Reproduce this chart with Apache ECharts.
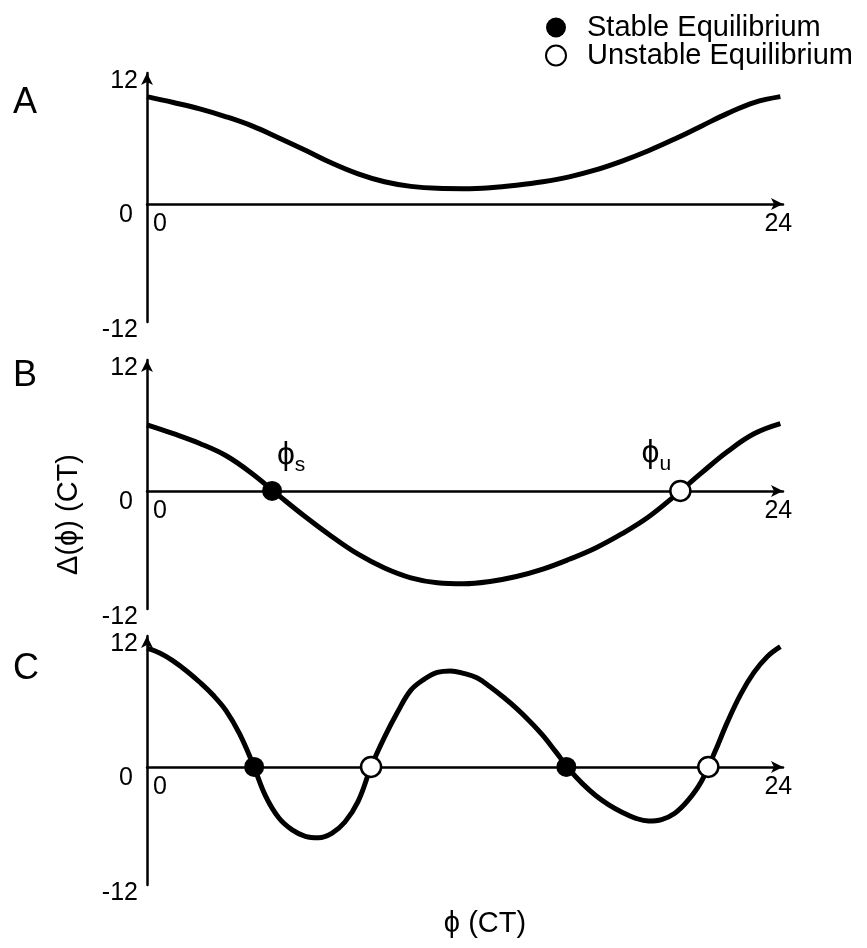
<!DOCTYPE html>
<html>
<head>
<meta charset="utf-8">
<title>Phase response</title>
<script src="https://cdn.jsdelivr.net/npm/echarts@6.0.0/dist/echarts.min.js"></script>
<style>
html,body{margin:0;padding:0;background:#fff;}
#main{width:867px;height:948px;}
</style>
</head>
<body>
<div id="main"></div>
<script>
// phase (CT), read hourly / half-hourly off the picture
var phaseHourly = [0, 1, 2, 3, 4, 5, 6, 7, 8, 9, 10, 11, 12, 13, 14, 15, 16, 17, 18, 19, 20, 21, 22, 23, 24];
var deltaA = [10.9, 10.3, 9.65, 8.85, 7.9, 6.7, 5.45, 4.15, 3.05, 2.25, 1.78, 1.58, 1.55, 1.65, 1.9, 2.25, 2.75, 3.45, 4.35, 5.4, 6.6, 7.9, 9.2, 10.3, 10.9];
var deltaB = [6.72, 5.82, 4.82, 3.57, 1.72, -0.48, -2.63, -4.63, -6.43, -7.83, -8.83, -9.33, -9.43, -9.2, -8.7, -7.95, -6.95, -5.8, -4.35, -2.65, -0.5, 1.8, 4.0, 5.8, 6.83];
var phaseHalf = [0, 0.5, 1, 1.5, 2, 2.5, 3, 3.5, 4, 4.5, 5, 5.5, 6, 6.5, 7, 7.5, 8, 8.5, 9, 9.5, 10, 10.5, 11, 11.5, 12,
    12.5, 13, 13.5, 14, 14.5, 15, 15.5, 16, 16.5, 17, 17.5, 18, 18.5, 19, 19.5, 20, 20.5, 21, 21.5, 22, 22.5, 23, 23.5, 24];
var deltaC = [12.06, 11.55, 10.75, 9.75, 8.6, 7.3, 5.7, 3.4, 0.38, -3.0, -5.2, -6.4, -7.05, -7.2, -6.75, -5.6, -3.5, 0.06, 3.02, 5.6, 7.8, 8.9, 9.6, 9.75, 9.5,
    9.05, 8.15, 7.1, 5.95, 4.65, 3.2, 1.5, -0.25, -1.7, -2.9, -3.85, -4.6, -5.2, -5.5, -5.35, -4.7, -3.4, -1.5, 1.4, 4.6, 7.4, 9.6, 11.2, 12.22];
// equilibrium points (on the zero line)
var stableB = [4.74];
var unstableB = [20.21];
var stableC = [4.06, 15.89];
var unstableC = [8.49, 21.27];
var xTicks = [0, 24];
var yTicks = [-12, 0, 12];
var panelNames = ['A', 'B', 'C'];

var FONT = '"Liberation Sans", Arial, "DejaVu Sans", sans-serif';

function pairs(xs, ys) {
    return xs.map(function (x, i) { return [x, ys[i]]; });
}
function onZeroLine(xs) {
    return xs.map(function (x) { return [x, 0]; });
}

window.addEventListener("load", function () {
    var myChart = echarts.init(document.getElementById('main'));

    var gridTops = [73, 360, 636];
    var titleTops = [85, 358, 651];
    var grids = [], xAxes = [], yAxes = [], titles = [];

    for (var i = 0; i < 3; i++) {
        grids.push({left: 147, top: gridTops[i], width: 636, height: 249, outerBoundsMode: 'none'});
        // x axis is lifted from the grid bottom onto y = 0
        xAxes.push({
            type: 'value', gridIndex: i, min: 0, max: 24.1, offset: -118.1,
            axisLine: {onZero: false, lineStyle: {color: '#000', width: 2.5}, symbol: ['none', 'arrow'], symbolSize: [9, 12]},
            axisTick: {show: false},
            splitLine: {show: false},
            axisLabel: {
                customValues: xTicks, margin: 8,
                color: '#000', fontSize: 25, fontFamily: FONT,
                formatter: function (v) { return v === 0 ? '{z|0}' : '{n|' + v + '}'; },
                rich: {
                    z: {fontSize: 25, fontFamily: FONT, color: '#000', padding: [0, 0, 0, 26]},
                    n: {fontSize: 25, fontFamily: FONT, color: '#000', padding: [0, 4, 0, 0]}
                }
            }
        });
        yAxes.push({
            type: 'value', gridIndex: i, min: -12, max: 13.3,
            axisLine: {lineStyle: {color: '#000', width: 2.5}, symbol: ['none', 'arrow'], symbolSize: [9, 12]},
            axisTick: {show: false},
            splitLine: {show: false},
            axisLabel: {
                customValues: yTicks, margin: 9,
                color: '#000', fontSize: 25, fontFamily: FONT,
                formatter: function (v) {
                    if (v === 12) return '{t|12}';
                    if (v === 0) return '{z|0}';
                    return '{b|' + v + '}';
                },
                rich: {
                    t: {fontSize: 25, fontFamily: FONT, color: '#000', padding: [0, 0, 9, 0]},
                    z: {fontSize: 25, fontFamily: FONT, color: '#000', padding: [23, 5, 0, 0]},
                    b: {fontSize: 25, fontFamily: FONT, color: '#000', padding: [16, 0, 0, 0]}
                }
            }
        });
        titles.push({
            text: panelNames[i], left: 13, top: titleTops[i], padding: 0,
            textStyle: {fontSize: 36, fontWeight: 'normal', fontFamily: FONT, color: '#000', lineHeight: 36}
        });
    }

    // axis titles
    yAxes[1].name = 'Δ(ϕ) (CT)';
    yAxes[1].nameLocation = 'middle';
    yAxes[1].nameRotate = 90;
    yAxes[1].nameGap = 64;
    yAxes[1].nameTextStyle = {fontSize: 29, fontFamily: FONT, color: '#000', padding: [0, 60, 0, 0]};

    xAxes[2].name = 'ϕ (CT)';
    xAxes[2].nameLocation = 'middle';
    xAxes[2].nameGap = 143;
    xAxes[2].nameTextStyle = {fontSize: 29, fontFamily: FONT, color: '#000', padding: [0, 0, 0, 40]};

    var curve = {type: 'line', smooth: 0.4, showSymbol: false, z: 2, silent: true,
        lineStyle: {color: '#000', width: 5}, itemStyle: {color: '#000'}};
    var stableStyle = {color: '#000', opacity: 1};
    var unstableStyle = {color: '#fff', borderColor: '#000', borderWidth: 2.5, opacity: 1};
    var subRich = function (letter) {
        var r = {
            p: {fontSize: 32, lineHeight: 36, fontFamily: FONT, color: '#000', padding: [0, 0, 6, 0]}
        };
        r[letter] = {fontSize: 21, lineHeight: 21, fontFamily: FONT, color: '#000', verticalAlign: 'bottom'};
        return r;
    };

    var option = {
        animation: false,
        title: titles,
        legend: {
            orient: 'vertical', left: 540, top: 8, padding: 5,
            itemWidth: 52, itemHeight: 20, itemGap: -1,
            selectedMode: false,
            textStyle: {fontSize: 29, fontFamily: FONT, color: '#000'},
            data: [
                {name: 'Stable Equilibrium', icon: 'circle'},
                {name: 'Unstable Equilibrium', icon: 'circle'}
            ]
        },
        grid: grids,
        xAxis: xAxes,
        yAxis: yAxes,
        series: [
            echarts.util.merge({name: 'A', xAxisIndex: 0, yAxisIndex: 0, data: pairs(phaseHourly, deltaA)}, curve),
            echarts.util.merge({name: 'B', xAxisIndex: 1, yAxisIndex: 1, data: pairs(phaseHourly, deltaB)}, curve),
            echarts.util.merge({name: 'C', xAxisIndex: 2, yAxisIndex: 2, data: pairs(phaseHalf, deltaC)}, curve),
            {
                name: 'Stable Equilibrium', type: 'scatter', xAxisIndex: 1, yAxisIndex: 1, z: 5, silent: true,
                symbolSize: 20, itemStyle: stableStyle, data: onZeroLine(stableB),
                label: {show: true, position: 'top', distance: 2, offset: [19, -3],
                    formatter: '{p|ϕ}{s|s}', rich: subRich('s')}
            },
            {
                name: 'Unstable Equilibrium', type: 'scatter', xAxisIndex: 1, yAxisIndex: 1, z: 5, silent: true,
                symbolSize: 20, itemStyle: unstableStyle, data: onZeroLine(unstableB),
                label: {show: true, position: 'top', distance: 2, offset: [-24, -3],
                    formatter: '{p|ϕ}{u|u}', rich: subRich('u')}
            },
            {
                name: 'Stable Equilibrium', type: 'scatter', xAxisIndex: 2, yAxisIndex: 2, z: 5, silent: true,
                symbolSize: 20, itemStyle: stableStyle, data: onZeroLine(stableC)
            },
            {
                name: 'Unstable Equilibrium', type: 'scatter', xAxisIndex: 2, yAxisIndex: 2, z: 5, silent: true,
                symbolSize: 20, itemStyle: unstableStyle, data: onZeroLine(unstableC)
            }
        ]
    };

    myChart.setOption(option);
}, false);
</script>
</body>
</html>
